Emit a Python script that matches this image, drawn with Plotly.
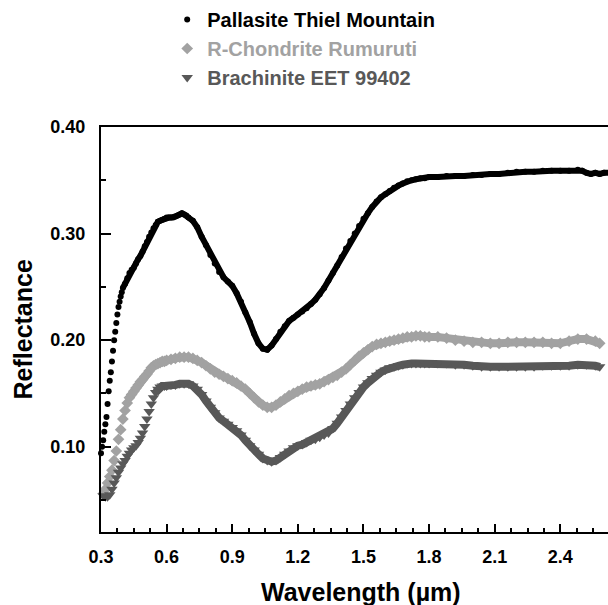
import plotly.graph_objects as go

# ---------------- data ----------------
wl_pallasite = [
    0.300, 0.305, 0.310, 0.315, 0.320, 0.325, 0.330, 0.335, 0.340, 0.345,
    0.350, 0.355, 0.360, 0.365, 0.370, 0.375, 0.380, 0.385, 0.390, 0.395, 0.400,
    0.41, 0.42, 0.43, 0.44, 0.45, 0.46, 0.47, 0.48, 0.49, 0.50,
    0.51, 0.52, 0.53, 0.54, 0.55, 0.56, 0.57, 0.58, 0.59, 0.60,
    0.61, 0.62, 0.63, 0.64, 0.65, 0.66, 0.67, 0.68, 0.69, 0.70,
    0.72, 0.74, 0.76, 0.78, 0.80, 0.82, 0.84, 0.86, 0.88, 0.90,
    0.92, 0.94, 0.96, 0.98, 1.00, 1.02, 1.04, 1.06, 1.08, 1.10,
    1.12, 1.14, 1.16, 1.18, 1.20, 1.22, 1.24, 1.26, 1.28, 1.30,
    1.32, 1.34, 1.36, 1.38, 1.40, 1.42, 1.44, 1.46, 1.48, 1.50,
    1.52, 1.54, 1.56, 1.58, 1.60, 1.62, 1.64, 1.66, 1.68, 1.70,
    1.72, 1.74, 1.76, 1.78, 1.80,
    1.84, 1.88, 1.92, 1.96, 2.00, 2.04, 2.08, 2.12, 2.16, 2.20,
    2.24, 2.28, 2.32, 2.36, 2.40, 2.44, 2.48,
    2.50, 2.52, 2.54, 2.56, 2.58, 2.60, 2.62, 2.66,
]
refl_pallasite = [
    0.094, 0.100, 0.106, 0.114, 0.121, 0.128, 0.140, 0.152, 0.162, 0.170,
    0.180, 0.190, 0.200, 0.208, 0.216, 0.224, 0.231, 0.236, 0.241, 0.245, 0.249,
    0.253, 0.258, 0.263, 0.266, 0.268, 0.272, 0.276, 0.279, 0.283, 0.288,
    0.292, 0.297, 0.301, 0.305, 0.308, 0.311, 0.312, 0.313, 0.314, 0.315,
    0.315, 0.315, 0.315, 0.316, 0.317, 0.318, 0.319, 0.318, 0.317, 0.315,
    0.312, 0.306, 0.297, 0.289, 0.280, 0.272, 0.264, 0.259, 0.255, 0.251,
    0.244, 0.236, 0.226, 0.217, 0.206, 0.197, 0.192, 0.191, 0.195, 0.201,
    0.208, 0.213, 0.218, 0.221, 0.224, 0.227, 0.230, 0.234, 0.238, 0.243,
    0.249, 0.256, 0.263, 0.270, 0.278, 0.286, 0.293, 0.300, 0.307, 0.314,
    0.319, 0.325, 0.330, 0.334, 0.337, 0.340, 0.343, 0.345, 0.347, 0.349,
    0.350, 0.351, 0.352, 0.352, 0.353,
    0.353, 0.354, 0.354, 0.354, 0.355, 0.355, 0.356, 0.356, 0.357, 0.358,
    0.358, 0.358, 0.359, 0.359, 0.359, 0.359, 0.360,
    0.359, 0.357, 0.356, 0.357, 0.356, 0.357, 0.357, 0.357,
]

wl_chondrites = [
    0.31, 0.32, 0.33, 0.34, 0.35, 0.36, 0.37, 0.38, 0.39, 0.40,
    0.41, 0.42, 0.43, 0.44, 0.45, 0.46, 0.47, 0.48, 0.49, 0.50,
    0.51, 0.52, 0.53, 0.54, 0.55, 0.56, 0.57, 0.58, 0.59, 0.60,
    0.62, 0.64, 0.66, 0.68, 0.70, 0.72, 0.74, 0.76, 0.78, 0.80,
    0.82, 0.84, 0.86, 0.88, 0.90, 0.92, 0.94, 0.96, 0.98, 1.00,
    1.02, 1.04, 1.06, 1.08, 1.10, 1.12, 1.14, 1.16, 1.18, 1.20,
    1.22, 1.24, 1.26, 1.28, 1.30, 1.32, 1.34, 1.36, 1.38, 1.40,
    1.42, 1.44, 1.46, 1.48, 1.50, 1.52, 1.54, 1.56, 1.58, 1.60,
    1.62, 1.64, 1.66, 1.68, 1.70, 1.72, 1.74, 1.76, 1.78, 1.80,
    1.84, 1.88, 1.92, 1.96, 2.00, 2.04, 2.08, 2.12, 2.16, 2.20,
    2.24, 2.28, 2.32, 2.36, 2.40, 2.44, 2.48, 2.52, 2.56, 2.58,
]
refl_rumuruti = [
    0.056, 0.060, 0.066, 0.072, 0.078, 0.087, 0.096, 0.107, 0.116, 0.126,
    0.134, 0.141, 0.146, 0.149, 0.152, 0.155, 0.158, 0.161, 0.163, 0.166,
    0.168, 0.171, 0.174, 0.176, 0.177, 0.178, 0.179, 0.180, 0.180, 0.181,
    0.182, 0.183, 0.184, 0.184, 0.184, 0.183, 0.181, 0.179, 0.176, 0.173,
    0.170, 0.168, 0.166, 0.164, 0.162, 0.160, 0.157, 0.154, 0.150, 0.146,
    0.142, 0.139, 0.137, 0.137, 0.139, 0.142, 0.145, 0.148, 0.150, 0.152,
    0.154, 0.156, 0.157, 0.158, 0.159, 0.161, 0.163, 0.165, 0.167, 0.170,
    0.173, 0.177, 0.181, 0.185, 0.188, 0.191, 0.194, 0.196, 0.197, 0.198,
    0.199, 0.200, 0.201, 0.202, 0.203, 0.203, 0.204, 0.204, 0.203, 0.203,
    0.203, 0.202, 0.200, 0.199, 0.198, 0.198, 0.197, 0.197, 0.198, 0.198,
    0.198, 0.198, 0.198, 0.197, 0.197, 0.199, 0.201, 0.201, 0.199, 0.197,
]
refl_brachinite = [
    0.054, 0.053, 0.053, 0.055, 0.060, 0.066, 0.071, 0.076, 0.080, 0.084,
    0.087, 0.091, 0.094, 0.097, 0.099, 0.101, 0.104, 0.108, 0.113, 0.119,
    0.126, 0.133, 0.140, 0.146, 0.151, 0.154, 0.156, 0.157, 0.157, 0.157,
    0.158, 0.158, 0.159, 0.159, 0.159, 0.157, 0.154, 0.149, 0.143, 0.137,
    0.132, 0.127, 0.124, 0.121, 0.118, 0.115, 0.111, 0.106, 0.101, 0.097,
    0.093, 0.089, 0.087, 0.086, 0.087, 0.090, 0.093, 0.096, 0.099, 0.101,
    0.102, 0.104, 0.106, 0.107, 0.109, 0.111, 0.113, 0.117, 0.122, 0.128,
    0.134, 0.140, 0.146, 0.151, 0.156, 0.160, 0.164, 0.167, 0.170, 0.172,
    0.174, 0.175, 0.176, 0.177, 0.178, 0.178, 0.178, 0.178, 0.178, 0.178,
    0.178, 0.178, 0.177, 0.177, 0.176, 0.175, 0.175, 0.175, 0.175, 0.175,
    0.175, 0.175, 0.176, 0.176, 0.176, 0.176, 0.177, 0.177, 0.176, 0.175,
]

names = ["Pallasite Thiel Mountain", "R-Chondrite Rumuruti", "Brachinite EET 99402"]
x_ticks = [0.3, 0.6, 0.9, 1.2, 1.5, 1.8, 2.1, 2.4]
y_ticks = [0.10, 0.20, 0.30, 0.40]
x_title = "Wavelength (µm)"
y_title = "Reflectance"

# ---------------- style ----------------
FONT = "Liberation Sans, Arial, sans-serif"
C_BLACK = "#000000"
C_LIGHT = "#a2a2a2"
C_DARK = "#585858"

series = [
    dict(x=wl_pallasite, y=refl_pallasite, name=names[0], color=C_BLACK,
         symbol="circle", size=6, lw=6, line_from=0.40),
    dict(x=wl_chondrites, y=refl_rumuruti, name=names[1], color=C_LIGHT,
         symbol="diamond", size=9, lw=8, line_from=0.43),
    dict(x=wl_chondrites, y=refl_brachinite, name=names[2], color=C_DARK,
         symbol="triangle-down", size=10, lw=8, line_from=0.55),
]

fig = go.Figure()
for i, s in enumerate(series):
    # continuous band where the measured points are densely packed
    lx = [a for a in s["x"] if a >= s["line_from"]]
    ly = [b for a, b in zip(s["x"], s["y"]) if a >= s["line_from"]]
    fig.add_trace(go.Scatter(
        x=lx, y=ly, mode="lines", line=dict(color=s["color"], width=s["lw"]),
        showlegend=False, hoverinfo="skip", cliponaxis=False,
        legendgroup=f"g{i}",
    ))
for i, s in enumerate(series):
    fig.add_trace(go.Scatter(
        x=s["x"], y=s["y"], mode="markers",
        name=f"<span style='color:{s['color']}'>{s['name']}</span>",
        marker=dict(symbol=s["symbol"], size=s["size"], color=s["color"],
                    line=dict(width=0)),
        cliponaxis=False, legendgroup=f"g{i}",
    ))

fig.update_layout(
    width=608, height=605,
    margin=dict(l=101, r=0, t=127, b=73, autoexpand=False),
    paper_bgcolor="white", plot_bgcolor="white",
    font=dict(family=FONT, color="black"),
    showlegend=True,
    legend=dict(
        xref="container", yref="container",
        x=0.275, y=1.011, xanchor="left", yanchor="top",
        font=dict(family=FONT, size=20, weight="bold"),
        traceorder="grouped", tracegroupgap=0,
        bgcolor="rgba(0,0,0,0)", itemwidth=30,
    ),
    xaxis=dict(
        range=[0.3, 2.618], tickvals=x_ticks,
        ticktext=[f"{v:.1f}" for v in x_ticks], tickangle=0,
        ticks="inside", ticklen=8, tickwidth=2, tickcolor="black",
        minor=dict(dtick=0.075, tick0=0.3, ticks="inside", ticklen=4,
                   tickwidth=2, tickcolor="black"),
        showline=True, linecolor="black", linewidth=2, mirror=True,
        showgrid=False, zeroline=False,
        tickfont=dict(family=FONT, size=18, weight="bold", color="black"),
        ticklabelstandoff=7,
    ),
    yaxis=dict(
        range=[0.02, 0.40], tickvals=y_ticks,
        ticktext=[f"{v:.2f}" for v in y_ticks],
        ticks="inside", ticklen=10, tickwidth=2, tickcolor="black",
        minor=dict(dtick=0.05, tick0=0.0, ticks="inside", ticklen=5,
                   tickwidth=2, tickcolor="black"),
        showline=True, linecolor="black", linewidth=2, mirror=False,
        showgrid=False, zeroline=False,
        tickfont=dict(family=FONT, size=18, weight="bold", color="black"),
        ticklabelstandoff=10,
    ),
    annotations=[
        dict(text=y_title, textangle=-90, showarrow=False,
             xref="paper", yref="paper", x=(22 - 101) / 507, y=0.5,
             xanchor="center", yanchor="middle",
             font=dict(family=FONT, size=25, weight="bold", color="black")),
        dict(text=x_title, showarrow=False,
             xref="paper", yref="paper", x=(361 - 101) / 507,
             y=(532 - 592) / 405, xanchor="center", yanchor="middle",
             font=dict(family=FONT, size=25, weight="bold", color="black")),
    ],
)

fig.write_html("out.html")
